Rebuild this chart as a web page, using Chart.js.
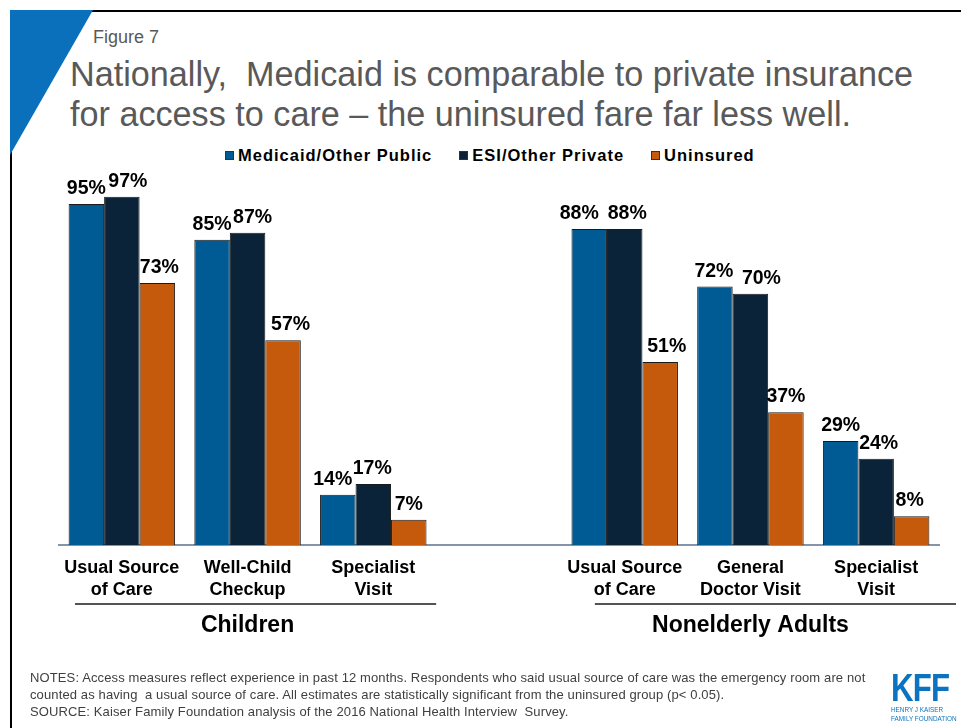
<!DOCTYPE html>
<html>
<head>
<meta charset="utf-8">
<script src="https://cdn.jsdelivr.net/npm/chart.js@4/dist/chart.umd.min.js"></script>
<style>
  html, body { margin: 0; padding: 0; background: #fff; }
  body { width: 961px; height: 728px; position: relative; overflow: hidden;
         font-family: Arial, "Liberation Sans", Helvetica, sans-serif; }
  .frame { position: absolute; left: 10px; top: 10px; width: 951px; height: 718px;
           border-top: 2px solid #000; border-left: 2px solid #000; box-sizing: border-box; }
  .corner { position: absolute; left: 10px; top: 10px; }
  .fig { position: absolute; left: 93px; top: 27.5px; font-size: 18px; line-height: 18px; color: #595959; }
  .title { position: absolute; left: 70px; top: 54px; font-size: 34.2px; line-height: 40px; color: #595959; white-space: nowrap; }
  .legend { position: absolute; left: 225px; top: 146px; height: 19px; display: flex; align-items: center;
            font-weight: bold; font-size: 16.5px; letter-spacing: 1px; color: #000; white-space: nowrap; }
  .legend .item { display: flex; align-items: center; margin-right: 27px; }
  .legend .sw { width: 9px; height: 9px; box-sizing: border-box; border: 1px solid #333; margin-right: 4px; }
  canvas { position: absolute; left: 0; top: 0; }
  .notes { position: absolute; left: 30px; top: 668.5px; font-size: 13px; line-height: 17px; color: #404040;
           white-space: nowrap; letter-spacing: 0.12px; }
  .logo { position: absolute; left: 891px; top: 668px; color: #0b73bf; }
  .logo .kff { font-weight: bold; font-size: 39px; line-height: 39px; transform: scaleX(0.8); transform-origin: left top; letter-spacing: -1px; }
  .logo .sub { font-size: 7.5px; line-height: 8.5px; transform: scaleX(0.85); transform-origin: left top; white-space: nowrap; margin-top: -1px; }
</style>
</head>
<body>
<div class="frame"></div>
<svg class="corner" width="90" height="150"><polygon points="0,0 83,0 0,145" fill="#0a70bc"/></svg>
<div class="fig">Figure 7</div>
<div class="title">Nationally,&nbsp; Medicaid is comparable to private insurance<br>for access to care – the uninsured fare far less well.</div>
<div class="legend" id="legend"></div>
<canvas id="chart" width="961" height="728"></canvas>
<div class="notes">NOTES: Access measures reflect experience in past 12 months. Respondents who said usual source of care was the emergency room are not<br>counted as having&nbsp; a usual source of care. All estimates are statistically significant from the uninsured group (p&lt; 0.05).<br>SOURCE: Kaiser Family Foundation analysis of the 2016 National Health Interview&nbsp; Survey.</div>
<div class="logo"><div class="kff">KFF</div><div class="sub">HENRY J KAISER<br>FAMILY FOUNDATION</div></div>
<script>
// Access measures, percent of each coverage group (children, then nonelderly adults; blank slot between groups)
const categories = [
  ["Usual Source", "of Care"], ["Well-Child", "Checkup"], ["Specialist", "Visit"],
  "",
  ["Usual Source", "of Care"], ["General", "Doctor Visit"], ["Specialist", "Visit"]
];
const seriesNames = ["Medicaid/Other Public", "ESI/Other Private", "Uninsured"];
const medicaidPublic = [95, 85, 14, null, 88, 72, 29];
const esiPrivate     = [97, 87, 17, null, 88, 70, 24];
const uninsured      = [73, 57,  7, null, 51, 37,  8];
const groupNames = ["Children", "Nonelderly Adults"];
const groupRanges = [[0, 2], [4, 6]];

// presentation
const seriesColors = ["#005a94", "#0b2338", "#c55a0c"];
const labelShift = [
  [0, 0, -5, 0, -10, -1, 0],
  [6, 5, -1, 0, 2.5, 11, 2.5],
  [2, 7.5, 0, 0, 6.5, 0, -2]
];
const FONT = 'Arial, "Liberation Sans", Helvetica, sans-serif';

// HTML legend
const legendEl = document.getElementById('legend');
seriesNames.forEach((name, i) => {
  const item = document.createElement('div');
  item.className = 'item';
  const sw = document.createElement('div');
  sw.className = 'sw';
  sw.style.background = seriesColors[i];
  const tx = document.createElement('span');
  tx.textContent = name;
  item.appendChild(sw); item.appendChild(tx);
  legendEl.appendChild(item);
});

// value labels above each bar
const valueLabels = {
  id: 'valueLabels',
  afterDatasetsDraw(chart) {
    const ctx = chart.ctx;
    ctx.save();
    ctx.font = 'bold 19.5px ' + FONT;
    ctx.fillStyle = '#000';
    ctx.textAlign = 'center';
    ctx.textBaseline = 'alphabetic';
    chart.data.datasets.forEach((ds, di) => {
      const meta = chart.getDatasetMeta(di);
      meta.data.forEach((bar, i) => {
        const v = ds.data[i];
        if (v === null || v === undefined) return;
        ctx.fillText(v + '%', bar.x + labelShift[di][i], bar.y - 10);
      });
    });
    ctx.restore();
  }
};

// bracket lines and group names under the category labels
const groupLabels = {
  id: 'groupLabels',
  afterDraw(chart) {
    const ctx = chart.ctx;
    const xs = chart.scales.x;
    const half = (xs.getPixelForValue(1) - xs.getPixelForValue(0)) / 2;
    const lineY = 604;
    const insets = [[16, 0], [33, 17]];
    ctx.save();
    groupRanges.forEach((r, g) => {
      const x0 = xs.getPixelForValue(r[0]) - half + insets[g][0];
      const x1 = xs.getPixelForValue(r[1]) + half + insets[g][1];
      ctx.strokeStyle = '#1a1a1a';
      ctx.lineWidth = 1.5;
      ctx.beginPath();
      ctx.moveTo(x0, lineY);
      ctx.lineTo(x1, lineY);
      ctx.stroke();
      const mid = xs.getPixelForValue((r[0] + r[1]) / 2);
      ctx.font = 'bold 23px ' + FONT;
      ctx.fillStyle = '#000';
      ctx.textAlign = 'center';
      ctx.textBaseline = 'alphabetic';
      ctx.fillText(groupNames[g], mid, 632);
    });
    ctx.restore();
  }
};

new Chart(document.getElementById('chart'), {
  type: 'bar',
  data: {
    labels: categories,
    datasets: [
      { label: seriesNames[0], data: medicaidPublic, backgroundColor: seriesColors[0] },
      { label: seriesNames[1], data: esiPrivate, backgroundColor: seriesColors[1] },
      { label: seriesNames[2], data: uninsured, backgroundColor: seriesColors[2] }
    ].map(d => Object.assign(d, {
      borderColor: '#1a1a1a', borderWidth: 1,
      barPercentage: 1, categoryPercentage: 0.847
    }))
  },
  options: {
    responsive: false,
    animation: false,
    devicePixelRatio: 1,
    layout: { padding: { left: 59, right: 22, top: 186, bottom: 115 } },
    plugins: { legend: { display: false }, tooltip: { enabled: false }, title: { display: false } },
    scales: {
      x: {
        grid: { display: false, drawTicks: false },
        border: { display: true, color: '#8594a8', width: 2 },
        ticks: {
          autoSkip: false, maxRotation: 0, minRotation: 0, padding: 12,
          color: '#000',
          font: { family: FONT, size: 18, weight: 'bold', lineHeight: '22px' }
        }
      },
      y: { display: false, min: 0, max: 100 }
    }
  },
  plugins: [valueLabels, groupLabels]
});
</script>
</body>
</html>
